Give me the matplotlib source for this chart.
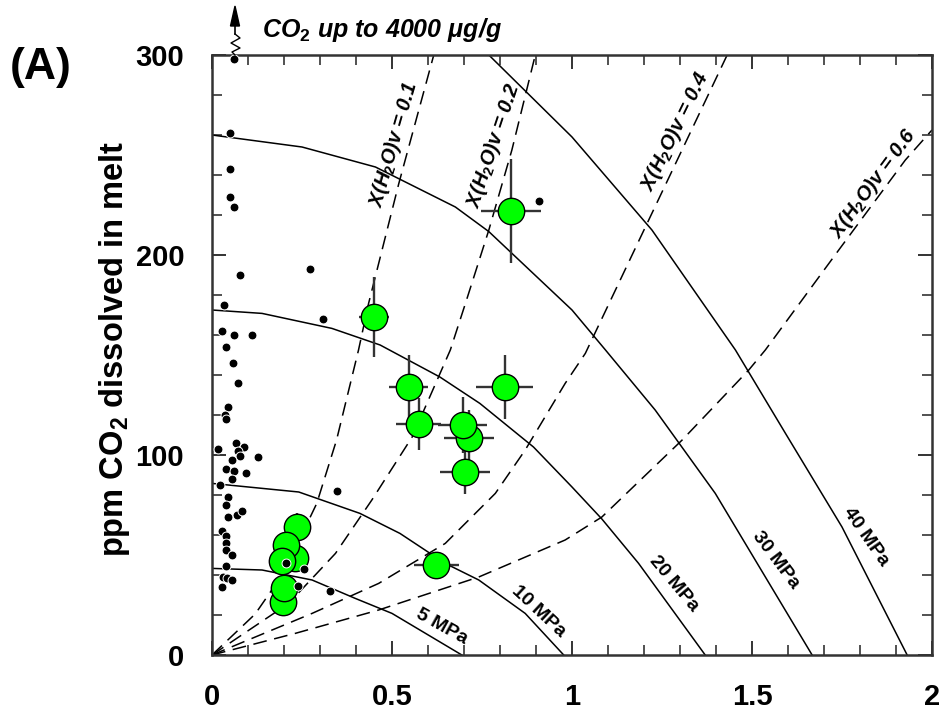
import matplotlib
matplotlib.use("Agg")
import matplotlib.pyplot as plt
from matplotlib.lines import Line2D
import numpy as np

plt.rcParams['font.family'] = ['Liberation Sans', 'DejaVu Sans']
plt.rcParams['font.weight'] = 'bold'
plt.rcParams['mathtext.fontset'] = 'custom'
plt.rcParams['mathtext.rm'] = 'Liberation Sans:bold'
plt.rcParams['mathtext.it'] = 'Liberation Sans:italic:bold'
plt.rcParams['mathtext.bf'] = 'Liberation Sans:bold'

# ---------------- data ----------------
# isobars (MPa): CO2 (ppm) vs H2O (wt%)
p5_x = [0, 0.139, 0.278, 0.398, 0.5, 0.694]
p5_y = [43.3, 42.5, 37.5, 28.3, 20.8, 0]
p10_x = [0, 0.241, 0.411, 0.522, 0.648, 0.741, 0.870, 0.977]
p10_y = [85.8, 81.5, 70.8, 60.8, 45.8, 37.5, 20.8, 0]
p20_x = [0, 0.139, 0.333, 0.467, 0.633, 0.744, 0.893, 1.0, 1.083, 1.185, 1.37]
p20_y = [172.5, 170.8, 163.3, 155, 139, 125.8, 104, 84, 68, 45.8, 0]
p30_x = [0, 0.25, 0.454, 0.676, 0.769, 1.0, 1.093, 1.231, 1.398, 1.667]
p30_y = [260, 254, 244, 224, 211.7, 172.5, 152.5, 122.5, 80.8, 0]
p40_x = [0.769, 1.0, 1.222, 1.454, 1.593, 1.75, 1.931]
p40_y = [300, 259, 212.5, 152.5, 110.8, 64, 0]

# isopleths X(H2O)v
x01_x = [0, 0.12, 0.198, 0.291, 0.346, 0.407, 0.435, 0.519, 0.616]
x01_y = [0, 20.5, 40.8, 75.8, 107.5, 152.5, 175.8, 235.8, 300]
x02_x = [0, 0.213, 0.343, 0.444, 0.556, 0.662, 0.704, 0.769, 0.833, 0.898]
x02_y = [0, 25.8, 50.8, 77.5, 109, 152.5, 175.8, 212.5, 252.5, 300]
x04_x = [0, 0.278, 0.463, 0.648, 0.787, 0.870, 0.981, 1.037, 1.431]
x04_y = [0, 20.8, 35.8, 55.8, 80.8, 102.5, 135.8, 150.8, 300]
x06_x = [0, 0.231, 0.463, 0.741, 0.981, 1.083, 1.306, 1.491, 1.537, 1.741, 1.926, 2.0]
x06_y = [0, 10.8, 22.5, 39, 57.5, 69, 107.5, 142.5, 152.5, 202.5, 247.5, 262.5]

# melt inclusions (green, with error bars)
inc_x = [0.831, 0.451, 0.546, 0.813, 0.574, 0.713, 0.696, 0.702, 0.623,
         0.236, 0.231, 0.206, 0.194, 0.196, 0.199]
inc_y = [222, 169, 134.2, 134.2, 115.5, 108.3, 115, 91.7, 45,
         64.2, 48.3, 55, 47.2, 26.7, 33.3]
inc_xerr = [0.083, 0.042, 0.053, 0.079, 0.0625, 0.069, 0.069, 0.07, 0.0625,
            0.02, 0.02, 0.02, 0.02, 0.02, 0.02]
inc_yerr = [26, 20, 16, 16, 13, 14, 14, 11, 4, 7, 6, 6, 6, 6, 6]

# other data (black dots)
dot_x = [0.061, 0.05, 0.05, 0.05, 0.061, 0.078, 0.272, 0.033, 0.307, 0.029,
         0.061, 0.111, 0.039, 0.057, 0.072, 0.044, 0.036, 0.040, 0.018, 0.067,
         0.09, 0.073, 0.127, 0.078, 0.056, 0.038, 0.062, 0.094, 0.056, 0.022,
         0.346, 0.044, 0.038, 0.069, 0.082, 0.044, 0.029, 0.038, 0.039, 0.038,
         0.056, 0.206, 0.256, 0.039, 0.031, 0.041, 0.056, 0.029, 0.238, 0.328,
         0.909]
dot_y = [298, 261, 243, 229, 224, 190, 193, 175, 168, 162,
         160, 160, 154, 146, 136, 124, 120, 118, 103, 106,
         104, 102, 99, 99.5, 97.5, 93, 92, 91, 88, 85,
         82, 79, 75, 70, 72, 69, 62, 59.5, 56, 52.5,
         50, 46, 43, 44.7, 39, 38.7, 37.5, 34, 34.7, 32,
         227]

xticks = [0, 0.5, 1, 1.5, 2]
xticklabels = ['0', '0.5', '1', '1.5', '2']
yticks = [0, 100, 200, 300]
yticklabels = ['0', '100', '200', '300']

# ---------------- figure ----------------
fig = plt.figure(figsize=(9.46, 7.19), dpi=100)
ax = fig.add_axes([212/946, 1-655/719, 720/946, 600/719])
ax.set_xlim(0, 2)
ax.set_ylim(0, 300)

for xs, ys in [(p5_x, p5_y), (p10_x, p10_y), (p20_x, p20_y), (p30_x, p30_y), (p40_x, p40_y)]:
    ax.plot(xs, ys, color='black', lw=1.1, zorder=2)
for xs, ys in [(x01_x, x01_y), (x02_x, x02_y), (x04_x, x04_y), (x06_x, x06_y)]:
    ax.plot(xs, ys, color='black', lw=1.1, dashes=(9, 5), zorder=2)

# inclusions
for i in range(len(inc_x)):
    ax.errorbar(inc_x[i], inc_y[i], xerr=inc_xerr[i], yerr=inc_yerr[i], fmt='none',
                ecolor='#333333', elinewidth=1.7, capsize=0, zorder=3 + i * 0.01)
for i in range(len(inc_x)):
    ax.plot(inc_x[i], inc_y[i], 'o', ms=19, mfc='#00ff00', mec='black', mew=1.0,
            zorder=4 + i * 0.01)

ax.plot(dot_x, dot_y, 'o', ms=6.4, mfc='black', mec='white', mew=0.7, zorder=6,
        clip_on=False)

# labels on curves
lab_kw = dict(ha='center', va='center', rotation_mode='anchor', fontsize=14.5,
              fontweight='bold', fontstyle='italic', zorder=5)
ax.text(0.504, 255, r'X(H$_2$O)v = 0.1', rotation=74, **lab_kw)
ax.text(0.782, 255, r'X(H$_2$O)v = 0.2', rotation=71.6, **lab_kw)
ax.text(1.287, 261.7, r'X(H$_2$O)v = 0.4', rotation=64, **lab_kw)
ax.text(1.838, 235.8, r'X(H$_2$O)v = 0.6', rotation=53.7, **lab_kw)

mp_kw = dict(ha='center', va='center', rotation_mode='anchor', fontsize=14,
             fontweight='bold', zorder=5)
ax.text(0.639, 14.2, '5 MPa', rotation=-29, **mp_kw)
ax.text(0.907, 21.7, '10 MPa', rotation=-43, **mp_kw)
ax.text(1.282, 35.8, '20 MPa', rotation=-50, **mp_kw)
ax.text(1.567, 47.5, '30 MPa', rotation=-53, **mp_kw)
ax.text(1.815, 59, '40 MPa', rotation=-55, **mp_kw)

# axes styling
ax.set_xticks(xticks)
ax.set_xticklabels(xticklabels)
ax.set_yticks(yticks)
ax.set_yticklabels(yticklabels)
ax.set_xticks(np.arange(0, 2.01, 0.1), minor=True)
ax.set_yticks(np.arange(0, 301, 20), minor=True)
ax.tick_params(which='both', direction='in', top=True, right=True, color='#333333')
ax.tick_params(which='major', length=10, width=1.4, labelsize=21, pad=20)
ax.tick_params(which='minor', length=7, width=1.2)
for lab in ax.get_xticklabels() + ax.get_yticklabels():
    lab.set_fontweight('bold')
for s in ax.spines.values():
    s.set_linewidth(1.8)
    s.set_color('#333333')

fig.text(114/946, 1-349/719, r'ppm CO$_\mathrm{2}$ dissolved in melt', rotation=90,
         ha='center', va='center', fontsize=23.5, fontweight='bold')
fig.text(41/946, 1-67/719, '(A)', ha='center', va='center', fontsize=32, fontweight='bold')
fig.text(262/946, 1-30/719, r'CO$_2$ up to 4000 μg/g', ha='left', va='center',
         fontsize=18, fontweight='bold', fontstyle='italic')

# arrow with squiggle
W, H = 946, 719
ax_arrow_x = 235
fig.add_artist(Line2D([ax_arrow_x / W] * 2, [1 - 34/H, 1 - 14/H], transform=fig.transFigure,
                      color='black', lw=1.2))
fig.patches.append(matplotlib.patches.FancyArrow(
    ax_arrow_x / W, 1 - 26/H, 0, 20/H, width=0.0001, head_width=9/W, head_length=20/H,
    length_includes_head=True, transform=fig.transFigure, color='black', figure=fig))
sq_px = [(235, 34), (240, 38), (231, 43), (240, 48), (232, 52), (235, 55)]
fig.add_artist(Line2D([p[0]/W for p in sq_px], [1 - p[1]/H for p in sq_px],
                      transform=fig.transFigure, color='black', lw=1.0))

fig.savefig('out.png', dpi=100)
